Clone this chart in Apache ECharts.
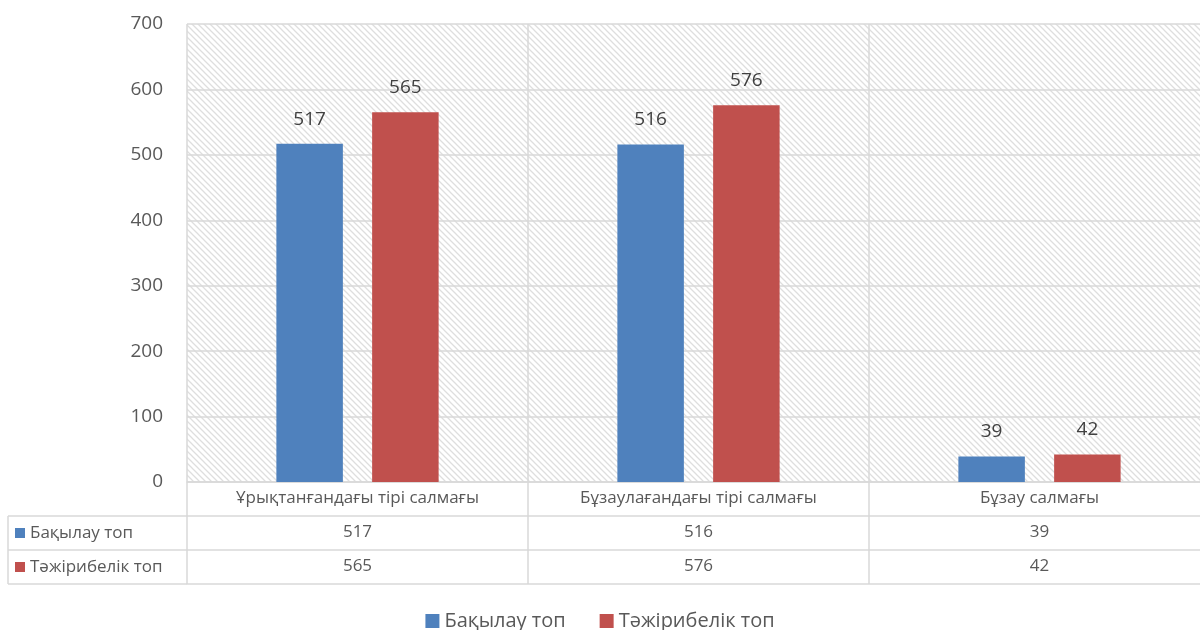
<!DOCTYPE html>
<html>
<head>
<meta charset="utf-8">
<script src="https://cdn.jsdelivr.net/npm/echarts@6/dist/echarts.min.js"></script>
<style>
  html, body { margin: 0; padding: 0; background: #fff; }
  #chart { width: 1200px; height: 630px; }
</style>
</head>
<body>
<div id="chart"></div>
<script>
// Categories and series
const categories = ['Ұрықтанғандағы тірі салмағы', 'Бұзаулағандағы тірі салмағы', 'Бұзау салмағы'];
const seriesNames = ['Бақылау топ', 'Тәжірибелік топ'];
const controlGroup = [517, 516, 39];
const experimentalGroup = [565, 576, 42];
const colors = ['#4f81bd', '#c0504d'];

const FONT = '"Open Sans", "Noto Sans", sans-serif';
const LINE = '#d9d9d9';
const GRID_LEFT = 187, GRID_TOP = 24, GRID_BOTTOM = 148, GRID_WIDTH = 1023, ROW = 34, TABLE_LEFT = 8;

// Diagonal hatch used behind the plot area
function hatch() {
  const c = document.createElement('canvas');
  c.width = 6; c.height = 6;
  const g = c.getContext('2d');
  g.fillStyle = '#ffffff';
  g.fillRect(0, 0, 6, 6);
  g.strokeStyle = '#dedede';
  g.lineWidth = 1.3;
  g.beginPath();
  g.moveTo(-1, -1); g.lineTo(7, 7);
  g.moveTo(-1, 5); g.lineTo(1, 7);
  g.moveTo(5, -1); g.lineTo(7, 1);
  g.stroke();
  return c;
}

// One x axis per row of the data table; labels come from the arrays
function tableAxis(offset, values, showLabel) {
  return {
    type: 'category',
    data: categories,
    position: 'bottom',
    offset: offset,
    axisLine: { show: true, lineStyle: { color: LINE, width: 1.5 } },
    axisTick: { show: showLabel, length: ROW, lineStyle: { color: LINE, width: 1.5 } },
    axisLabel: {
      show: showLabel,
      margin: 8,
      fontFamily: FONT, fontSize: 17, color: '#595959',
      formatter: (v, i) => values ? String(values[i]) : v
    },
    splitLine: { show: false }
  };
}

const chart = echarts.init(document.getElementById('chart'), null, { renderer: 'canvas' });

const rowY = [1, 2].map(k => 630 - GRID_BOTTOM + ROW * k);
const graphics = [];
// horizontal rules of the legend column
rowY.concat([630 - GRID_BOTTOM + ROW * 3]).forEach(y => {
  graphics.push({ type: 'line', shape: { x1: TABLE_LEFT, y1: y, x2: GRID_LEFT, y2: y },
    style: { stroke: LINE, lineWidth: 1.5 }, silent: true });
});
graphics.push({ type: 'line', shape: { x1: TABLE_LEFT, y1: rowY[0], x2: TABLE_LEFT, y2: rowY[0] + ROW * 2 },
  style: { stroke: LINE, lineWidth: 1.5 }, silent: true });
// row keys
seriesNames.forEach((name, i) => {
  const cy = rowY[i] + ROW / 2;
  graphics.push({ type: 'rect', shape: { x: 15, y: cy - 5, width: 10, height: 10 },
    style: { fill: colors[i] }, silent: true });
  graphics.push({ type: 'text', x: 30, y: cy,
    style: { text: name, font: '17px ' + FONT, fill: '#595959', verticalAlign: 'middle', textAlign: 'left' }, silent: true });
});

chart.setOption({
  animation: false,
  color: colors,
  textStyle: { fontFamily: FONT },
  grid: {
    left: GRID_LEFT, width: GRID_WIDTH, top: GRID_TOP, bottom: GRID_BOTTOM,
    outerBoundsMode: 'none',
    show: true, borderWidth: 0,
    backgroundColor: { image: hatch(), repeat: 'repeat' }
  },
  legend: {
    top: 606, left: 'center',
    itemWidth: 14, itemHeight: 14, itemGap: 34,
    icon: 'rect',
    textStyle: { fontFamily: FONT, fontSize: 20, color: '#595959' },
    data: seriesNames
  },
  xAxis: [
    Object.assign(tableAxis(0, null, true), {
      splitLine: { show: true, lineStyle: { color: LINE, width: 1.5 } }
    }),
    tableAxis(ROW, controlGroup, true),
    tableAxis(ROW * 2, experimentalGroup, true),
    tableAxis(ROW * 3, null, false)
  ],
  yAxis: {
    type: 'value', min: 0, max: 700, interval: 100,
    axisLine: { show: false }, axisTick: { show: false },
    axisLabel: { margin: 24, fontFamily: FONT, fontSize: 19, color: '#595959' },
    splitLine: { lineStyle: { color: LINE, width: 1.5 } }
  },
  series: [
    { name: seriesNames[0], type: 'bar', data: controlGroup, barWidth: '19.5%', barGap: '44%' },
    { name: seriesNames[1], type: 'bar', data: experimentalGroup, barWidth: '19.5%', barGap: '44%' }
  ].map(s => Object.assign(s, {
    label: { show: true, position: 'top', distance: 15, fontFamily: FONT, fontSize: 19, color: '#404040' }
  })),
  graphic: graphics
});
</script>
</body>
</html>
